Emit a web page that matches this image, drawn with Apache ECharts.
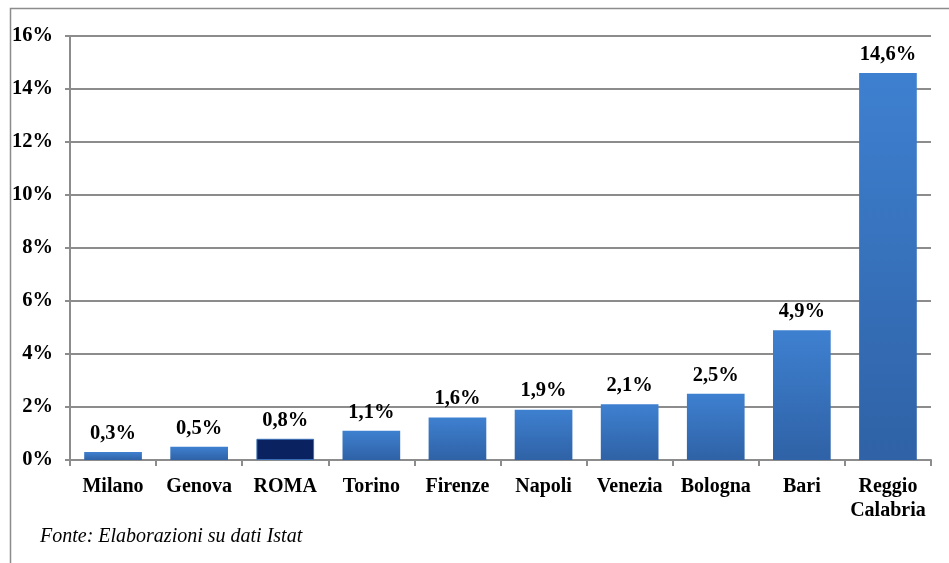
<!DOCTYPE html>
<html>
<head>
<meta charset="utf-8">
<script src="https://cdn.jsdelivr.net/npm/echarts@6/dist/echarts.min.js"></script>
<style>
html,body{margin:0;padding:0;background:#fff}
#chart{width:949px;height:563px}
</style>
</head>
<body>
<div id="chart"></div>
<script>
var cities = ['Milano', 'Genova', 'ROMA', 'Torino', 'Firenze', 'Napoli', 'Venezia', 'Bologna', 'Bari', 'Reggio\nCalabria']
var values = [0.3, 0.5, 0.8, 1.1, 1.6, 1.9, 2.1, 2.5, 4.9, 14.6]
var highlight = 'ROMA'

var font = '"Liberation Serif", "Times New Roman", serif'

var blue = new echarts.graphic.LinearGradient(0, 0, 0, 1, [
    { offset: 0, color: '#3e80d0' },
    { offset: 1, color: '#2f62a6' }
])

var chart = echarts.init(document.getElementById('chart'))
chart.setOption({
    animation: false,
    grid: { left: 70, right: 18, top: 36, bottom: 103 },
    graphic: [
        {
            type: 'polyline',
            shape: { points: [[10.5, 563], [10.5, 8.5], [949, 8.5]] },
            style: { stroke: '#8c8c8c', lineWidth: 1.5, fill: null }
        },
        {
            type: 'text', left: 40, top: 527,
            style: { text: 'Fonte: Elaborazioni su dati Istat', font: 'italic 20px ' + font, fill: '#000' }
        }
    ],
    xAxis: {
        type: 'category',
        data: cities,
        axisLine: { lineStyle: { color: '#8c8c8c', width: 2 } },
        axisTick: { show: true, length: 6, lineStyle: { color: '#8c8c8c', width: 2 } },
        axisLabel: {
            interval: 0, hideOverlap: false,
            color: '#000', fontFamily: font, fontWeight: 'bold', fontSize: 20, margin: 15, lineHeight: 24
        }
    },
    yAxis: {
        type: 'value',
        min: 0, max: 16, interval: 2,
        axisLine: { show: true, lineStyle: { color: '#8c8c8c', width: 2 } },
        axisTick: { show: true, length: 5, lineStyle: { color: '#8c8c8c', width: 2 } },
        splitLine: { lineStyle: { color: '#8c8c8c', width: 2 } },
        axisLabel: { color: '#000', fontFamily: font, fontWeight: 'bold', fontSize: 20.5, margin: 17, formatter: '{value}%' }
    },
    series: [{
        type: 'bar',
        barCategoryGap: '33%',
        data: values.map(function (v, i) {
            return cities[i] === highlight
                ? { value: v, itemStyle: { color: '#0a2360', borderColor: '#3a6fb8', borderWidth: 1 } }
                : { value: v }
        }),
        itemStyle: { color: blue },
        label: {
            show: true, position: 'top', distance: 8,
            color: '#000', fontFamily: font, fontWeight: 'bold', fontSize: 20.5,
            formatter: function (p) { return p.value.toFixed(1).replace('.', ',') + '%' }
        }
    }]
})
</script>
</body>
</html>
